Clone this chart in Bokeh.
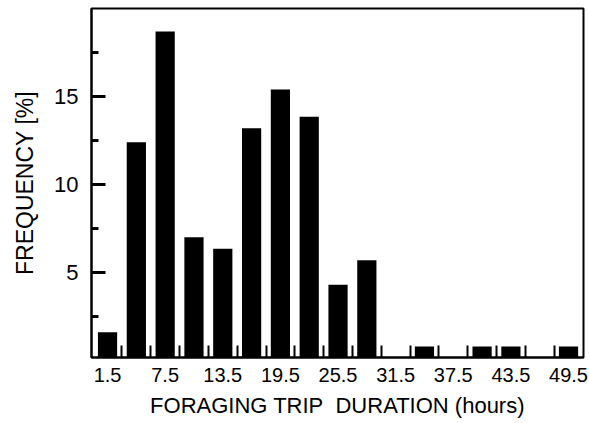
from bokeh.plotting import figure
from bokeh.models import FixedTicker, Range1d, ColumnDataSource
from bokeh.embed import file_html
from bokeh.resources import INLINE

# Data
durations = [1.5, 4.5, 7.5, 10.5, 13.5, 16.5, 19.5, 22.5, 25.5, 28.5,
             31.5, 34.5, 37.5, 40.5, 43.5, 46.5, 49.5]
frequency = [1.6, 12.4, 18.7, 7.0, 6.35, 13.2, 15.4, 13.85, 4.3, 5.7,
             0.0, 0.8, 0.0, 0.8, 0.8, 0.0, 0.8]
x_tick_values = [1.5, 7.5, 13.5, 19.5, 25.5, 31.5, 37.5, 43.5, 49.5]
x_tick_labels = ["1.5", "7.5", "13.5", "19.5", "25.5", "31.5", "37.5", "43.5", "49.5"]
bin_edges = [3, 6, 9, 12, 15, 18, 21, 24, 27, 30, 33, 36, 39, 42, 45, 48]
y_tick_values = [5, 10, 15]
y_minor_values = [2.5, 7.5, 12.5, 17.5]

FONT = "Liberation Sans"

p = figure(width=589, height=423, output_backend="svg", toolbar_location=None,
           x_range=Range1d(-0.17, 51.06), y_range=Range1d(0.17, 20.0),
           min_border_left=91, min_border_right=6, min_border_top=8,
           min_border_bottom=66)

src = ColumnDataSource(dict(x=durations, top=frequency))
p.vbar(x="x", top="top", bottom=0, width=2.0, source=src,
       fill_color="black", line_color=None)

p.xgrid.visible = False
p.ygrid.visible = False
p.outline_line_color = "black"
p.outline_line_width = 2
p.background_fill_color = "white"
p.border_fill_color = "white"

xa = p.xaxis[0]
xa.ticker = FixedTicker(ticks=x_tick_values, minor_ticks=bin_edges)
xa.major_label_overrides = {v: l for v, l in zip(x_tick_values, x_tick_labels)}
xa.major_tick_in = 0
xa.major_tick_out = 0
xa.minor_tick_in = 12
xa.minor_tick_out = 0
xa.minor_tick_line_width = 2
xa.minor_tick_line_color = "black"
xa.axis_line_width = 2
xa.axis_line_color = "black"
xa.major_label_text_font = FONT
xa.major_label_text_font_size = "20px"
xa.major_label_text_color = "black"
xa.major_label_standoff = 10
xa.axis_label = "FORAGING TRIP\u00a0 DURATION (hours)"
xa.axis_label_text_font = FONT
xa.axis_label_text_font_size = "22px"
xa.axis_label_text_font_style = "normal"
xa.axis_label_text_color = "black"
xa.axis_label_standoff = 8

ya = p.yaxis[0]
ya.ticker = FixedTicker(ticks=y_tick_values, minor_ticks=y_minor_values)
ya.major_tick_in = 14
ya.major_tick_out = 0
ya.minor_tick_in = 7
ya.minor_tick_out = 0
ya.major_tick_line_width = 3
ya.minor_tick_line_width = 3
ya.major_tick_line_color = "black"
ya.minor_tick_line_color = "black"
ya.axis_line_width = 2
ya.axis_line_color = "black"
ya.major_label_text_font = FONT
ya.major_label_text_font_size = "22px"
ya.major_label_text_color = "black"
ya.major_label_standoff = 13
ya.axis_label = "FREQUENCY [%]"
ya.axis_label_text_font = FONT
ya.axis_label_text_font_size = "23px"
ya.axis_label_text_font_style = "normal"
ya.axis_label_text_color = "black"
ya.axis_label_standoff = 13

open("out.html", "w").write(file_html(p, INLINE))
